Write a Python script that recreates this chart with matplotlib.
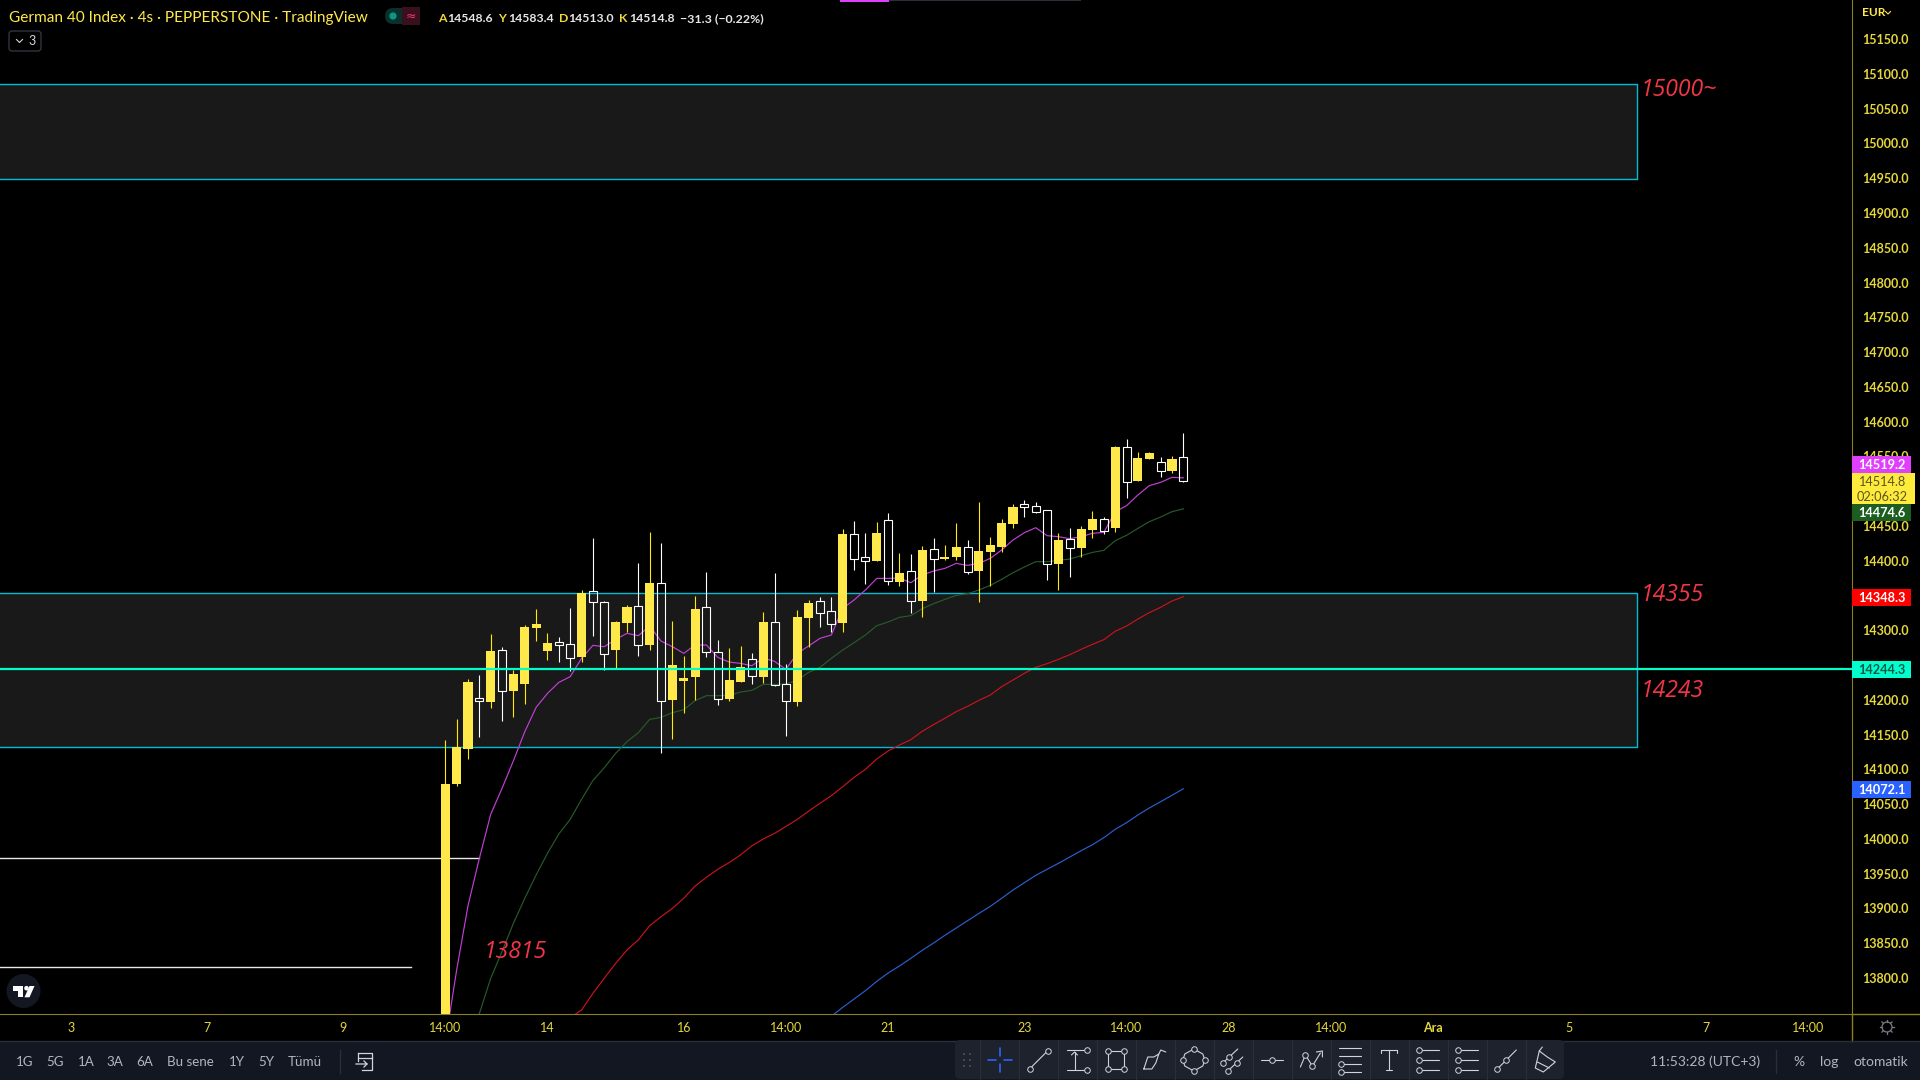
import numpy as np
import matplotlib as mpl
mpl.use('Agg')
import matplotlib.pyplot as plt
from matplotlib.patches import Rectangle, FancyBboxPatch, Circle, Polygon

#----- DATA -----
open_ = [13700.0,14079.0,14129.7,14203.1,14196.8,14271.1,14212.7,14222.7,14303.2,14270.2,14282.6,14279.8,14261.5,14356.0,14340.1,14271.6,
         14310.4,14334.4,14278.8,14367.5,14199.7,14227.0,14232.8,14333.0,14268.2,14201.2,14225.6,14258.2,14232.8,14311.4,14222.2,14196.8,
         14317.6,14341.6,14327.2,14310.4,14437.9,14404.8,14399.6,14458.0,14369.4,14384.7,14342.0,14416.3,14402.4,14405.3,14419.2,14385.2,
         14412.5,14419.7,14452.8,14481.0,14478.2,14472.4,14395.2,14430.7,14418.3,14444.1,14459.5,14447.0,14563.0,14514.6,14546.2,14541.4,
         14529.0,14548.6]
high = [14142.4,14172.4,14229.4,14235.2,14294.6,14275.9,14242.8,14307.5,14330.6,14296.0,14290.3,14332.0,14357.9,14432.6,14342.0,14313.3,
        14336.3,14396.7,14441.3,14425.5,14313.3,14263.0,14349.2,14383.8,14286.0,14274.5,14277.4,14267.3,14326.2,14382.3,14251.5,14329.1,
        14343.5,14347.8,14347.8,14445.6,14457.0,14439.8,14455.6,14468.6,14411.0,14409.6,14421.1,14432.6,14422.6,14454.2,14429.8,14484.4,
        14434.0,14460.0,14481.5,14487.3,14484.4,14472.9,14439.8,14447.0,14449.9,14471.5,14462.8,14564.9,14575.0,14556.3,14556.3,14549.1,
        14550.5,14583.4]
low = [13680.0,14076.0,14114.9,14147.0,14188.7,14170.0,14175.8,14194.0,14284.5,14257.2,14254.3,14241.9,14254.3,14291.7,14242.8,14245.2,
       14297.0,14263.0,14271.6,14124.0,14143.6,14181.0,14199.7,14261.5,14192.5,14198.3,14225.6,14222.7,14224.2,14219.8,14148.0,14191.1,
       14276.0,14304.7,14297.5,14297.5,14386.6,14366.5,14399.6,14365.0,14363.6,14324.8,14319.0,14354.5,14401.0,14401.0,14380.9,14340.6,
       14363.6,14412.5,14447.0,14462.8,14468.6,14372.2,14357.9,14376.6,14405.3,14432.6,14438.4,14441.3,14490.2,14514.6,14546.2,14520.3,
       14526.1,14513.0]
close = [14079.0,14131.7,14225.6,14198.8,14270.2,14213.1,14237.1,14304.7,14309.0,14281.7,14279.3,14260.6,14354.0,14341.1,14266.3,14311.9,
         14333.4,14279.3,14367.9,14198.8,14250.0,14231.3,14330.5,14269.2,14201.6,14228.5,14247.2,14234.7,14311.9,14221.8,14198.8,14319.0,
         14339.2,14325.3,14309.5,14438.4,14402.9,14399.6,14439.8,14371.3,14382.3,14342.5,14415.4,14402.9,14405.3,14419.7,14383.8,14413.9,
         14422.6,14454.2,14477.2,14477.7,14470.5,14395.7,14429.8,14418.7,14445.6,14460.0,14443.2,14563.5,14513.6,14547.7,14554.9,14529.4,
         14546.2,14514.8]

ma_purple = [13707.6,13811.6,13904.1,13972.1,14035.4,14072.8,14112.5,14154.2,14189.2,14209.3,14225.1,14233.3,14259.6,14278.3,14276.4,14286.9,
             14295.6,14292.2,14306.1,14284.5,14276.4,14266.8,14278.8,14278.8,14261.0,14254.3,14252.4,14249.0,14260.1,14255.3,14243.8,14266.8,
             14277.4,14288.4,14293.2,14331.5,14343.5,14357.9,14374.6,14374.6,14375.1,14368.4,14379.4,14385.2,14389.0,14396.2,14393.3,14396.2,
             14403.4,14415.4,14429.8,14440.3,14447.5,14436.0,14434.6,14431.7,14434.6,14439.4,14440.8,14470.5,14479.1,14494.5,14507.9,14512.7,
             14519.9,14519.2]
ma_green = [13749.0,13799.6,13838.4,13878.7,13914.6,13948.2,13979.3,14007.1,14028.2,14056.9,14084.0,14102.4,14123.0,14139.8,14152.7,14171.9,
            14174.8,14181.5,14185.8,14198.8,14206.0,14206.0,14206.4,14211.2,14213.6,14222.2,14222.2,14222.7,14228.5,14239.5,14246.7,14259.6,
            14271.6,14282.1,14293.2,14306.6,14311.9,14318.6,14321.0,14331.0,14338.2,14344.4,14350.2,14352.6,14357.9,14364.6,14373.2,14382.8,
            14391.0,14398.6,14398.6,14400.5,14402.4,14407.2,14412.0,14414.9,14428.8,14436.5,14446.5,14456.1,14462.8,14470.5,14474.6]
ma_red = [13743.0,13754.0,13778.0,13799.6,13821.0,13840.3,13854.7,13875.3,13888.2,13900.2,13914.6,13932.3,13944.8,13956.3,13966.0,13977.0,
          13990.0,14000.0,14008.0,14018.0,14028.0,14040.0,14051.2,14062.2,14075.0,14088.6,14100.0,14114.9,14126.4,14135.0,14142.7,14154.7,
          14164.3,14173.4,14183.0,14190.6,14199.3,14206.9,14218.9,14228.5,14238.1,14246.7,14252.0,14258.2,14264.9,14272.6,14279.8,14286.5,
          14298.5,14306.1,14316.2,14325.3,14333.0,14342.1,14348.3]
ma_blue = [13745.0,13757.8,13769.8,13781.8,13795.2,13807.2,13817.3,13828.3,13839.8,13850.3,13861.4,13871.9,13882.4,13893.0,13903.0,13914.6,
           13926.5,13937.1,13947.6,13956.3,13964.9,13974.0,13983.1,13991.7,14001.8,14013.8,14023.4,14034.4,14044.4,14053.5,14062.7,14072.1]

time_ticks = [-33,-21,-9,0,9,21,30,39,51,60,69,78,87,99,111,120]
time_labels = ['3','7','9','14:00','14','16','14:00','21','23','14:00','28','14:00','Ara','5','7','14:00']
price_ticks = [p for p in range(13800,15151,50) if p not in (14500,14350,14250)]

zones = [(14949.5,15085.0),(14131.7,14354.0)]
zone_end = 105.0
white_levels = [(13972.0,-40,3.0),(13815.4,-40,-3.0)]
level_line = 14244.3
notes = [('15000~',105.25,15076.5),('14355',105.25,14350.5),('14243',105.25,14212.5),('13815',3.35,13838.0)]

range_labels = ['1G','5G','1A','3A','6A','Bu sene','1Y','5Y','Tümü']
ohlc_letters = ['A','Y','D','K']
ohlc_values = ['14548.6','14583.4','14513.0','14514.8']

#----- COLOURS -----
YEL = '#FFE94A'
WICK = '#FFEA00'
TICKCOL = '#E6D83A'
AXCOL = '#8C7F22'
CYAN = '#00BCD4'
ZONE = '#191919'
RED = '#F23645'
UIBG = '#131722'
UITXT = '#B2B5BE'
ICON = '#D1D4DC'
UIFONT = 'Lato'

plt.rcParams['font.family'] = [UIFONT,'DejaVu Sans']

fig = plt.figure(figsize=[19.2,10.8],facecolor='black')

#------ chart ----------
ax = fig.add_axes([0,1-1013.5/1080,1852.3/1920,1013.5/1080],facecolor='black')
ax.set_xlim(-39.22,123.92)
ax.set_ylim(13749.0,15206.2)

n = len(open_)
bars = np.arange(n)
o = np.array(open_)
c = np.array(close)
h = np.array(high)
l = np.array(low)
up = c>=o
top = np.maximum(o,c)
bot = np.minimum(o,c)

for lo,hi in zones:
    ax.add_patch(Rectangle((-60,lo),60+zone_end,hi-lo,facecolor=ZONE,edgecolor=CYAN,lw=1.0,zorder=1))

for lev,x0,x1 in white_levels:
    ax.plot([x0,x1],[lev,lev],color='#E8E8E8',lw=1.0,zorder=1.5)

ax.plot(bars,ma_purple,color='#C23FD6',lw=0.85,zorder=2)
ax.plot(bars[3:],ma_green,color='#265A2B',lw=0.85,zorder=2)
ax.plot(bars[11:],ma_red,color='#C8141C',lw=0.85,zorder=2)
ax.plot(bars[34:],ma_blue,color='#2A5FD0',lw=0.85,zorder=2)

ax.vlines(bars[up],l[up],h[up],color=WICK,lw=0.8,zorder=3)
ax.bar(bars[up],(top-bot)[up],bottom=bot[up],width=0.8,color=YEL,lw=0,zorder=3.1)
ax.vlines(bars[~up],top[~up],h[~up],color='white',lw=0.8,zorder=3)
ax.vlines(bars[~up],l[~up],bot[~up],color='white',lw=0.8,zorder=3)
ax.bar(bars[~up],(top-bot)[~up],bottom=bot[~up],width=0.7,facecolor='none',edgecolor='white',lw=0.8,zorder=3.1)

ax.axhline(level_line,color='#00FFC8',lw=1.6,zorder=4)

for txt,xx,yy in notes:
    ax.text(xx,yy,txt,color=RED,fontsize=16.6,style='italic',va='center',ha='left',
            family=['Open Sans','DejaVu Sans'],zorder=5)

ax.yaxis.tick_right()
ax.set_yticks(price_ticks)
ax.set_yticklabels(['%.1f'%p for p in price_ticks],color=TICKCOL,fontsize=9,fontweight='bold')
ax.set_xticks(time_ticks)
ax.set_xticklabels(time_labels,color=TICKCOL,fontsize=9)
ax.get_xticklabels()[12].set_fontweight('bold')
ax.tick_params(axis='y',length=0,pad=7)
ax.tick_params(axis='x',length=0,pad=6)
for s in ['top','left']:
    ax.spines[s].set_visible(False)
ax.spines['right'].set_color(AXCOL)
ax.spines['bottom'].set_color(AXCOL)

#------ interface layer, pixel coordinates ----------
ui = fig.add_axes([0,0,1,1],facecolor='none')
ui.set_xlim(0,1920)
ui.set_ylim(1080,0)
ui.axis('off')

def tag(y0,y1,col,txt,tcol='white',right=1911):
    ui.add_patch(Rectangle((1852.3,y0),right-1852.3,y1-y0,facecolor=col,lw=0,zorder=3))
    ui.text(1882,(y0+y1)/2+1,txt,color=tcol,fontsize=9.2,fontweight='bold',ha='center',va='center',zorder=4)

tag(456,472.7,'#E040FB','14519.2')
ui.add_patch(Rectangle((1852.3,472.7),62.7,31.3,facecolor='#FFEB3B',lw=0,zorder=3))
ui.text(1882,482.5,'14514.8',color='#5A5420',fontsize=9.2,ha='center',va='center',zorder=4)
ui.text(1882,497,'02:06:32',color='#5A5420',fontsize=9.2,ha='center',va='center',zorder=4)
tag(504,520.7,'#1B5E20','14474.6')
tag(589,605.7,'#FF0000','14348.3')
tag(661,677.7,'#00FFCC','14244.3',tcol='#0B5A4A')
tag(781,797.7,'#2962FF','14072.1')

ui.plot([1852.3,1852.3],[1013.5,1041],color=AXCOL,lw=1.0)
ui.plot([1852.3,1920],[1013.5,1013.5],color=AXCOL,lw=1.0)

# header
ui.add_patch(Rectangle((840,0),49,1.5,facecolor='#E040FB',lw=0))
ui.add_patch(Rectangle((889,0),192,1.2,facecolor='#2A2E39',lw=0))
ui.text(9,18,'German 40 Index · 4s · PEPPERSTONE · TradingView',color='#FFE94A',fontsize=11.1,va='center',ha='left')
ui.add_patch(FancyBboxPatch((385,8),34,16,boxstyle='round,pad=0,rounding_size=8',facecolor='#0A2F2C',lw=0))
ui.add_patch(Rectangle((402,7),18,18,facecolor='#3A0F1E',lw=0))
ui.add_patch(Circle((393,16),3.6,facecolor='#089981',lw=0))
ui.text(411,16,'≈',color='#F23675',fontsize=9,ha='center',va='center',family=['DejaVu Sans'])
for letter,val,xl,xv in zip(ohlc_letters,ohlc_values,[438,498,559,619],[447,508,568,629]):
    ui.text(xl,18.5,letter,color='#F2D93B',fontsize=8.8,fontweight='bold',va='center',ha='left')
    ui.text(xv,18.5,val,color='#E6E6E6',fontsize=8.8,fontweight='bold',va='center',ha='left')
ui.text(680,18.5,'−31.3 (−0.22%)',color='#E6E6E6',fontsize=8.9,fontweight='bold',va='center',ha='left')
ui.add_patch(FancyBboxPatch((9,31),32,20,boxstyle='round,pad=0,rounding_size=3',facecolor='black',edgecolor='#363A45',lw=0.9))
ui.plot([16.5,19.5,22.5],[39.5,42.5,39.5],color=ICON,lw=0.8)
ui.text(32,41,'3',color=ICON,fontsize=9,ha='center',va='center')

# price axis header
ui.text(1862,12.5,'EUR',color='#FFE94A',fontsize=8.6,fontweight='bold',va='center',ha='left')
ui.plot([1885.5,1888,1890.5],[11.5,14,11.5],color='#FFE94A',lw=0.8)

# logo
ui.add_patch(Circle((23.5,991),17,facecolor=UIBG,lw=0))
ui.add_patch(Polygon([(12.7,986),(22.5,986),(22.5,997.3),(17.5,997.3),(17.5,990.5),(12.7,990.5)],facecolor='white',lw=0))
ui.add_patch(Circle((26.5,988.2),2.3,facecolor='white',lw=0))
ui.add_patch(Polygon([(29.5,986),(34.5,986),(29.5,997.3),(24.5,997.3)],facecolor='white',lw=0))

# gear
ui.add_patch(Circle((1887,1027),5,facecolor='none',edgecolor='#787B86',lw=0.9))
for ang in np.deg2rad(range(0,360,45)):
    ui.plot([1887+5*np.cos(ang),1887+7.2*np.cos(ang)],[1027+5*np.sin(ang),1027+7.2*np.sin(ang)],color='#787B86',lw=0.9)

# bottom bar
ui.add_patch(Rectangle((0,1041.5),1920,38.5,facecolor=UIBG,lw=0))
ui.plot([0,1920],[1041,1041],color='#2A2E39',lw=1.0)
for lab,xx in zip(range_labels,[24.5,55,86,115,144.5,190,237,266,305]):
    ui.text(xx,1062,lab,color=UITXT,fontsize=9.6,ha='center',va='center')
ui.plot([340,340],[1050,1073],color='#2A2E39',lw=1.0)
ui.plot([1776,1776],[1050,1073],color='#2A2E39',lw=1.0)
ui.plot([358,372,372,362],[1053,1053,1070,1070],color=ICON,lw=0.9)
ui.plot([358,358],[1053,1061],color=ICON,lw=0.9)
ui.plot([358,372],[1058,1058],color=ICON,lw=0.9)
ui.plot([356,367,364],[1064,1064,1061],color=ICON,lw=0.9)
ui.plot([367,364],[1064,1067],color=ICON,lw=0.9)
ui.text(1705,1062,'11:53:28 (UTC+3)',color=UITXT,fontsize=10,ha='center',va='center')
ui.text(1799,1062,'%',color=UITXT,fontsize=10,ha='center',va='center')
ui.text(1829,1062,'log',color=UITXT,fontsize=10,ha='center',va='center')
ui.text(1881,1062,'otomatik',color=UITXT,fontsize=10,ha='center',va='center')

# drawing toolbar
ui.add_patch(FancyBboxPatch((955,1040),609,39,boxstyle='round,pad=0,rounding_size=5',facecolor='#1E222D',lw=0,zorder=3))
for i in range(15):
    xs = 979.7+39*i
    ui.plot([xs,xs],[1040,1079],color='#2A2E39',lw=0.8,zorder=3.1)
for dx in [-3,3]:
    for dy in [-6,0,6]:
        ui.add_patch(Rectangle((967+dx-1,1060+dy-1),2,2,facecolor='#434651',lw=0,zorder=3.2))

def seg(cx,pts,col=ICON,lw=0.8):
    ui.plot([cx+p[0] for p in pts],[1060+p[1] for p in pts],color=col,lw=lw,zorder=3.3,solid_capstyle='round')

def dots(cx,pts):
    ui.plot([cx+p[0] for p in pts],[1060+p[1] for p in pts],ls='none',marker='o',ms=4.0,mfc='#1E222D',mec=ICON,mew=0.7,zorder=3.4)

BLUE = '#2962FF'
seg(999.5,[(-12,0),(-4,0)],BLUE,1.2); seg(999.5,[(4,0),(12,0)],BLUE,1.2)
seg(999.5,[(0,-12),(0,-4)],BLUE,1.2); seg(999.5,[(0,4),(0,12)],BLUE,1.2)
seg(1038.5,[(-9,9),(9,-9)]); dots(1038.5,[(-9,9),(9,-9)])
seg(1077.5,[(-11,-10),(7,-10)]); seg(1077.5,[(-11,10),(7,10)]); seg(1077.5,[(-3,-8),(-3,9)])
seg(1077.5,[(-6,-5),(-3,-8),(0,-5)]); dots(1077.5,[(9,-10),(9,10)])
seg(1115.8,[(-8,-9),(8,-9),(8,9),(-8,9),(-8,-9)]); dots(1115.8,[(-8,-9),(8,-9),(8,9),(-8,9)])
seg(1154.8,[(-11,9),(-7,-3),(-1,-3),(4,-6),(1,3),(-3,9),(-11,9)]); seg(1154.8,[(4,-6),(6,-10),(11,-8)])
seg(1193.8,[(0,-11),(9,-6),(11,0),(9,6),(0,11),(-9,6),(-11,0),(-9,-6),(0,-11)]); dots(1193.8,[(0,-11),(11,0),(0,11),(-11,0)])
seg(1232.8,[(-10,3),(5,-11)]); seg(1232.8,[(-5,11),(10,-3)]); dots(1232.8,[(-10,3),(-4,-3),(-5,11),(4,3)])
seg(1272.4,[(-11,0),(11,0)]); dots(1272.4,[(0,0)])
seg(1311.4,[(-11,7),(-6,-5),(1,6),(9,-7)]); seg(1311.4,[(5,-8),(11,-9),(11,-3)]); dots(1311.4,[(-6,-5),(1,6)])
for dy in [-12,-4,4,12]:
    seg(1350.4,[(-11,dy),(11,dy)])
dots(1350.4,[(-9,4),(-9,12)])
seg(1389.4,[(-8,-10),(8,-10)]); seg(1389.4,[(-8,-10),(-8,-7)]); seg(1389.4,[(8,-10),(8,-7)]); seg(1389.4,[(0,-10),(0,10)]); seg(1389.4,[(-3,10),(3,10)])
for xc in [1428.3,1466.7]:
    for dy in [-10,0,10]:
        seg(xc,[(-8,dy),(11,dy)])
    dots(xc,[(-9,-10),(-9,10),(-9,0)])
seg(1506.3,[(-10,10),(10,-10)]); dots(1506.3,[(-9,9),(0,0)])
seg(1545.3,[(-6,-9),(-10,8),(-2,12),(10,2),(2,-3),(-6,-9)]); seg(1545.3,[(-6,-9),(-3,-13)]); seg(1545.3,[(-8,2),(4,8)])

fig.savefig('out.png',dpi=100,facecolor='black')
plt.close(fig)
